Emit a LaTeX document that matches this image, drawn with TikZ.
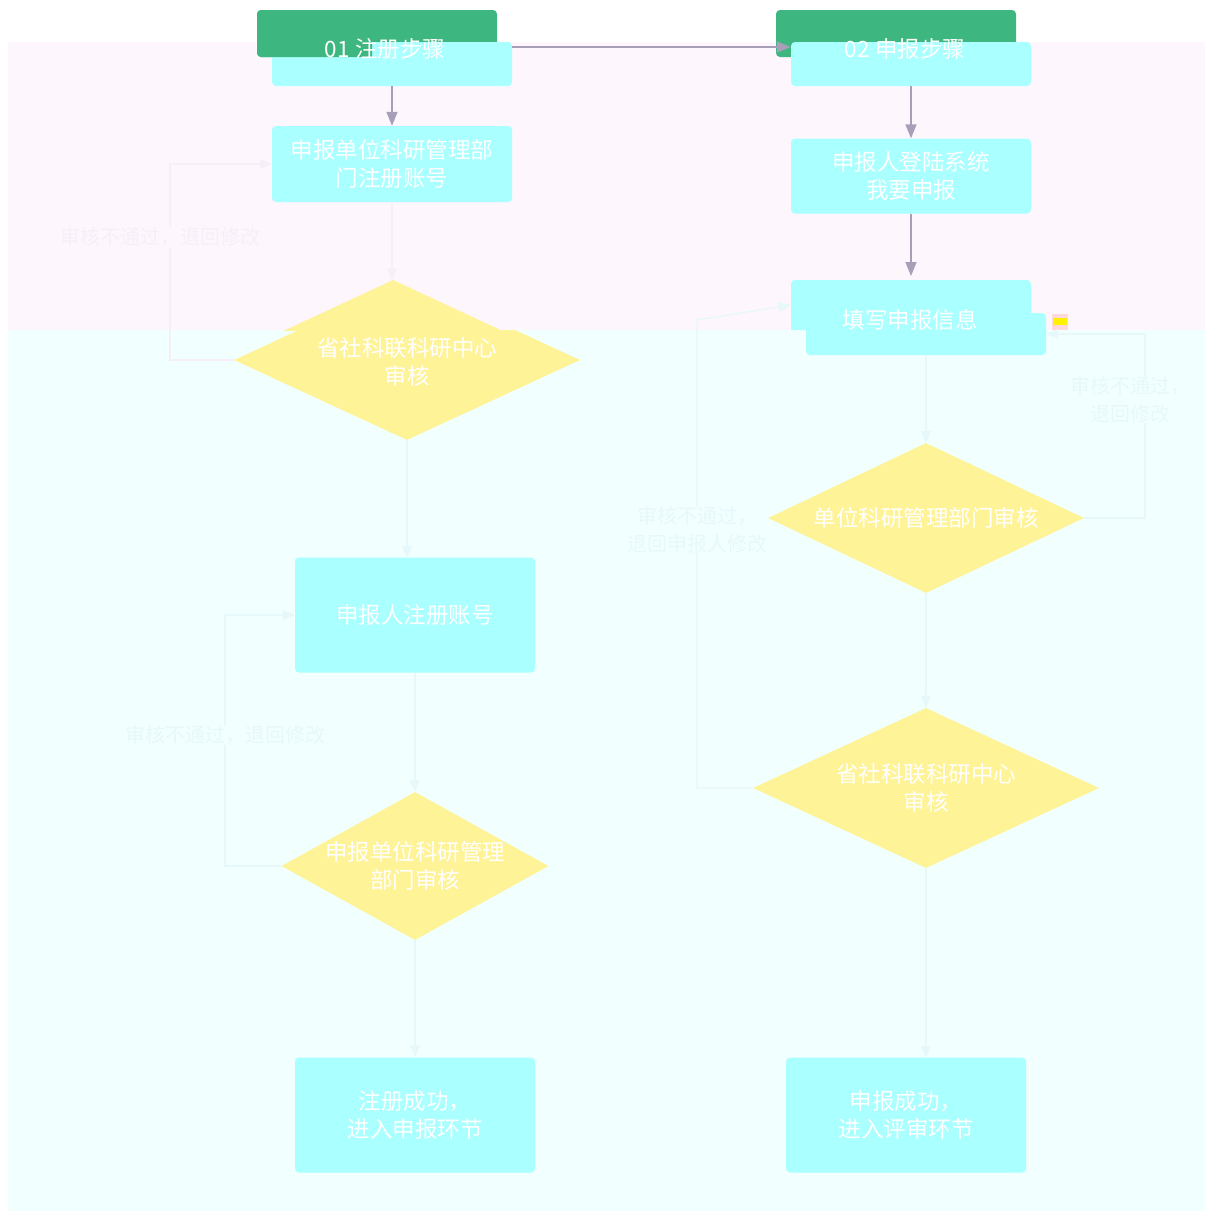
\documentclass[tikz,border=0pt]{standalone}
\usepackage{fontspec}
\newfontfamily\cjk{Noto Sans CJK SC}
\usetikzlibrary{arrows.meta,shapes.geometric}
\definecolor{hgreen}{HTML}{3DB77F}
\definecolor{cbox}{HTML}{AAFFFF}
\definecolor{ydia}{HTML}{FFF397}
\definecolor{pinkbg}{HTML}{FDF6FD}
\definecolor{cyanbg}{HTML}{F1FFFF}
\definecolor{conn}{HTML}{A79FB8}
\definecolor{faint}{HTML}{E7F8FA}
\definecolor{faintp}{HTML}{F7EFF8}
\tikzset{
  boxc/.style={fill=cbox,draw=none,rounded corners=4pt,inner sep=0pt},
  hdr/.style={fill=hgreen,draw=none,rounded corners=4pt,inner sep=0pt},
  dia/.style={diamond,fill=ydia,draw=none,inner sep=0pt},
  txt/.style={text=white,font=\cjk\fontsize{22.5}{28}\selectfont,align=center,inner sep=0pt},
  arr/.style={draw=conn,line width=1.6pt,-{Triangle[length=14pt,width=11pt]}},
  farr/.style={draw=faint,line width=1.2pt,-{Triangle[length=12pt,width=10pt]}},
  flab/.style={text=faint,font=\cjk\fontsize{20}{28}\selectfont,align=center,inner sep=0pt}
}
\begin{document}
\begin{tikzpicture}[x=1pt,y=-1pt]
\useasboundingbox (0,0) rectangle (1205,1211);
\fill[white] (0,0) rectangle (1205,1211);
% background bands
\fill[pinkbg] (8,42) rectangle (1205,330);
\fill[cyanbg] (8,330) rectangle (1205,1211);

% headers
\node[hdr,minimum width=240,minimum height=47] (h1) at (377,33.5) {};
\node[hdr,minimum width=240,minimum height=47] (h2) at (896,33.5) {};
\node[boxc,minimum width=240,minimum height=44] (r0) at (392,64) {};
\node[boxc,minimum width=240,minimum height=44] (a0) at (911,64) {};
\begin{scope}
  \clip (250,0) rectangle (372,57);
  \fill[hgreen,rounded corners=4pt] (257,10) rectangle (497,57);
\end{scope}
\node[txt] (h1t) at (385,49) {01 注册步骤};
\node[txt] (h2t) at (905,49) {02 申报步骤};

% left column
\node[boxc,minimum width=240,minimum height=76] (b1) at (392,164) {};
\node[txt] (b1t) at (b1) {申报单位科研管理部\\门注册账号};

% diamond 1 (glitched upper part)
\begin{scope}
  \clip (0,330) rectangle (1205,1211);
  \node[dia,minimum width=346,minimum height=160] (d1) at (407,360) {};
\end{scope}
\begin{scope}
  \clip (0,0) rectangle (1205,330);
  \fill[ydia] (393,280) -- (565,360) -- (393,440) -- (221,360) -- cycle;
\end{scope}
\node[txt] (d1t) at (407,362) {省社科联科研中心\\审核};

\node[boxc,minimum width=240,minimum height=115] (b2) at (415,615) {};
\node[txt] (b2t) at (b2) {申报人注册账号};
\node[dia,minimum width=267,minimum height=148] (d2) at (415,866) {};
\node[txt] (d2t) at (d2) {申报单位科研管理\\部门审核};
\node[boxc,minimum width=240,minimum height=115] (b3) at (415,1115) {};
\node[txt] (b3t) at (b3) {注册成功，\\进入申报环节};

% right column
\node[boxc,minimum width=240,minimum height=75] (a1) at (911,176) {};
\node[txt] (a1t) at (a1) {申报人登陆系统\\我要申报};
\node[boxc,minimum width=240,minimum height=42] (a2b) at (926,334) {};
\node[boxc,minimum width=240,minimum height=50] (a2) at (911,305) {};
\fill[cbox] (791,322) rectangle (1031,330);
\node[txt] (a2t) at (910,320) {填写申报信息};
\fill[pink!60] (1052,314) rectangle (1068,330);
\fill[yellow] (1053,318) rectangle (1067,325);

\node[dia,minimum width=316,minimum height=150] (d3) at (926,518) {};
\node[txt] (d3t) at (d3) {单位科研管理部门审核};
\node[dia,minimum width=346,minimum height=160] (d4) at (926,788) {};
\node[txt] (d4t) at (d4) {省社科联科研中心\\审核};
\node[boxc,minimum width=240,minimum height=115] (a3) at (906,1115) {};
\node[txt] (a3t) at (a3) {申报成功，\\进入评审环节};

% visible connectors
\draw[arr] (r0.east |- 0,47) -- (a0.west |- 0,47);
\draw[arr] (r0.south) -- (b1.north);
\draw[arr] (a0.south) -- (a1.north);
\draw[arr] (a1.south) -- (a1.south |- 0,276);

% faint connectors
\draw[farr,draw=faintp] (b1.south) -- (392,280);
\draw[farr] (d1.south) -- (407,558);
\draw[farr] (b2.south) -- (d2.north);
\draw[farr] (d2.south) -- (b3.north);
\draw[farr] (a2b.south) -- (d3.north);
\draw[farr] (d3.south) -- (d4.north);
\draw[farr] (d4.south) -- (926,1058);
\draw[farr,draw=faintp] (d1.west) -- (170,360) -- (170,164) -- (b1.west);
\draw[farr] (d2.west) -- (225,866) -- (225,615) -- (b2.west);
\draw[farr] (d3.east) -- (1145,518) -- (1145,334) -- (a2b.east);
\draw[farr] (d4.west) -- (697,788) -- (697,320) -- (a2.west);

% faint labels
\node[flab,text=faintp,fill=pinkbg] (l1) at (160,237) {审核不通过，退回修改};
\node[flab,fill=cyanbg] (l2) at (225,735) {审核不通过，退回修改};
\node[flab,fill=cyanbg] (l3) at (697,530) {审核不通过，\\退回申报人修改};
\node[flab,fill=cyanbg] (l4) at (1130,400) {审核不通过，\\退回修改};
\end{tikzpicture}
\end{document}
